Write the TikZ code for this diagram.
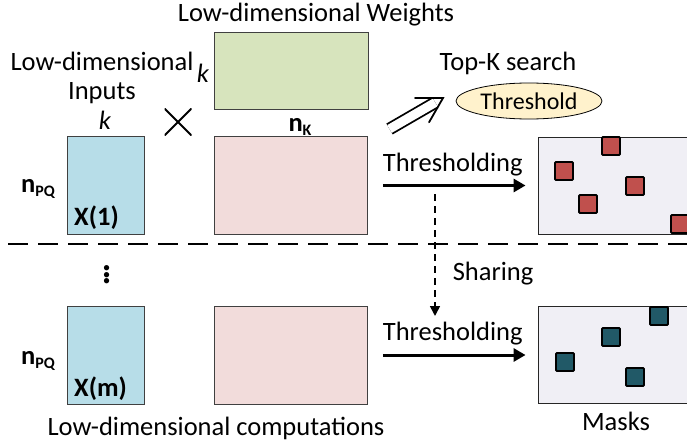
\documentclass[tikz,border=0pt]{standalone}
\usepackage{fontspec}
\setmainfont{Carlito}
\usetikzlibrary{arrows.meta,shapes.geometric,calc}

\definecolor{inblue}{HTML}{B7DDE8}
\definecolor{wgreen}{HTML}{D7E4BD}
\definecolor{outpink}{HTML}{F2DCDB}
\definecolor{masklav}{HTML}{F0EFF5}
\definecolor{thryel}{HTML}{FFF2CC}
\definecolor{sqred}{HTML}{C0504D}
\definecolor{sqteal}{HTML}{215967}

\newcommand{\subbf}[2]{\textbf{#1}\raisebox{-0.35ex}{\fontsize{16}{16}\selectfont\bfseries #2}}

\begin{document}
\begin{tikzpicture}[x=1pt,y=-1pt,
    every node/.style={font=\fontsize{26.5}{29}\selectfont, inner sep=0pt},
    mat/.style={draw=black!75, line width=0.9pt},
    maskbox/.style={draw=black!85, line width=0.9pt, fill=masklav, minimum width=162, minimum height=97},
    sq/.style={draw=black, line width=1.8pt, minimum size=18, rounded corners=1pt},
    thr/.style={line width=3pt, -{Triangle[length=12pt,width=13pt]}, shorten <=15pt, shorten >=12pt}]
    \useasboundingbox (0,0) rectangle (687,441);

    % matrices
    \node[mat, fill=inblue, minimum width=77, minimum height=98] (in1) at (105.5,185) {};
    \node[mat, fill=wgreen, minimum width=154, minimum height=77] (wt) at (291,70.5) {};
    \node[mat, fill=outpink, minimum width=153, minimum height=98] (out1) at (291,185.5) {};
    \node[mat, fill=inblue, minimum width=77, minimum height=98] (in2) at (105.5,355) {};
    \node[mat, fill=outpink, minimum width=153, minimum height=98] (out2) at (291,355) {};

    % masks
    \node[maskbox] (mask1) at (619,185.5) {};
    \node[maskbox] (mask2) at (619,355) {};

    \node[sq, fill=sqred] (r1) at (611,146) {};
    \node[sq, fill=sqred] (r2) at (564,171) {};
    \node[sq, fill=sqred] (r3) at (635,186) {};
    \node[sq, fill=sqred] (r4) at (588,204) {};
    \node[sq, fill=sqred] (r5) at (680,224) {};

    \node[sq, fill=sqteal] (b1) at (659,316) {};
    \node[sq, fill=sqteal] (b2) at (611,337) {};
    \node[sq, fill=sqteal] (b3) at (565,362) {};
    \node[sq, fill=sqteal] (b4) at (635,377) {};

    % labels
    \node (wlabel) at (316,15) {Low-dimensional Weights};
    \node[align=center] (inlabel) at (102,78) {Low-dimensional\\Inputs};
    \node (kin) at (105,120) {\textit{k}};
    \node (kwt) at (203,73) {\textit{k}};
    \node (nk) at (300,127) {\subbf{n}{K}};
    \node[minimum size=27, path picture={
        \draw[line width=1.8pt] (path picture bounding box.north west) -- (path picture bounding box.south east)
              (path picture bounding box.south west) -- (path picture bounding box.north east);}] (times) at (178,122) {};
    \node (npq1) at (38,189) {\subbf{n}{PQ}};
    \node (npq2) at (38,361) {\subbf{n}{PQ}};
    \node[anchor=south west] (x1) at (74,230) {\textbf{X(1)}};
    \node[anchor=south west] (xm) at (74,401) {\textbf{X(m)}};
    \node (dots) at (107,272) {\fontsize{44}{44}\selectfont$\vdots$};
    \node (comp) at (216,428) {Low-dimensional computations};
    \node (masks) at (616,421) {Masks};

    % top-k search
    \node (topk) at (508,63) {Top-K search};
    \node[ellipse, draw=black, line width=0.8pt, fill=thryel, minimum width=146, minimum height=36,
          font=\fontsize{24}{26}\selectfont] (thresh) at (529,101) {Threshold};
    \coordinate (ta) at (389.5,129);
    \coordinate (tb) at (443,98);
    \draw[line width=1.8pt, double, double distance=9pt, shorten >=9pt] (ta) -- (tb);
    \draw[line width=1.8pt, line cap=round, line join=miter]
        ($(tb)!28pt!30:(ta)$) -- (tb) -- ($(tb)!28pt!-30:(ta)$);

    % thresholding
    \draw[thr] (out1) -- (mask1) node[midway, above=8pt] {Thresholding};
    \draw[thr] (out2) -- (mask2) node[midway, above=8pt] {Thresholding};

    % sharing
    \coordinate (s1) at (435,194);
    \coordinate (s2) at (435,316);
    \draw[line width=1.6pt, dash pattern=on 7pt off 5pt, -{Triangle[length=10pt,width=10pt]}] (s1) -- (s2)
        node[pos=0.65, right=17pt] {Sharing};

    % separator
    \coordinate (d1) at (8,244);
    \coordinate (d2) at (690,244);
    \draw[line width=2.6pt, dash pattern=on 20pt off 10pt] (d1) -- (d2);
\end{tikzpicture}
\end{document}
